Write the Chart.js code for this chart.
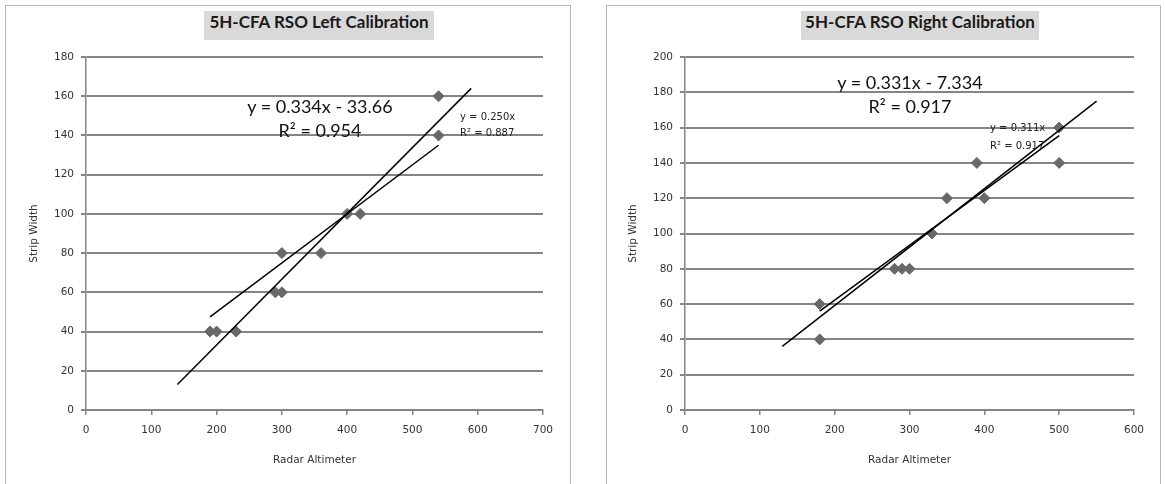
<!DOCTYPE html>
<html>
<head>
<meta charset="utf-8">
<script src="https://cdn.jsdelivr.net/npm/chart.js@4.4.1/dist/chart.umd.min.js"></script>
<style>
  body { margin: 0; background: #fff; }
  #wrap { position: relative; width: 1165px; height: 484px; overflow: hidden; }
  .panel { position: absolute; top: 5px; height: 520px; border: 1.5px solid #b8b8b8; box-sizing: border-box; }
  canvas { position: absolute; top: 0; }
  .ttl { position: absolute; top: 11px; height: 29px; line-height: 29px; background: #d9d9d9;
         font: bold 17px Lato, sans-serif; color: #1a1a1a; text-align: center; }
  .eq { position: absolute; transform: translateX(-50%); white-space: nowrap;
        font: 18px Lato, sans-serif; color: #111; height: 22px; line-height: 22px; }
  .eqs { position: absolute; white-space: nowrap; font: 10px "DejaVu Sans", sans-serif; color: #222;
         height: 14px; line-height: 14px; }
</style>
</head>
<body>
<div id="wrap">
  <div class="panel" style="left:5px; width:566px;"></div>
  <div class="panel" style="left:606px; width:555px;"></div>
  <canvas id="cLeft" width="580" height="484" style="left:0; width:580px; height:484px;"></canvas>
  <canvas id="cRight" width="575" height="484" style="left:590px; width:575px; height:484px;"></canvas>

  <div class="ttl" style="left:204px; width:230px;">5H-CFA RSO Left Calibration</div>
  <div class="ttl" style="left:801px; width:238px;">5H-CFA RSO Right Calibration</div>

  <div class="eq" style="left:320px; top:95px;">y = 0.334x - 33.66</div>
  <div class="eq" style="left:320px; top:119px;">R² = 0.954</div>
  <div class="eqs" style="left:460px; top:110px;">y = 0.250x</div>
  <div class="eqs" style="left:460px; top:126px;">R² = 0.887</div>

  <div class="eq" style="left:910px; top:71px;">y = 0.331x - 7.334</div>
  <div class="eq" style="left:910px; top:95px;">R² = 0.917</div>
  <div class="eqs" style="left:990px; top:121px;">y = 0.311x</div>
  <div class="eqs" style="left:990px; top:139px;">R² = 0.917</div>
</div>
<script>
// left calibration points
const leftAlt   = [190, 200, 230, 290, 300, 300, 360, 400, 420, 540, 540];
const leftStrip = [40, 40, 40, 60, 60, 80, 80, 100, 100, 160, 140];
// trend lines (end points)
const leftFitX  = [140, 590];
const leftFitY  = [13, 164];
const leftZeroX = [190, 540];
const leftZeroY = [47.5, 135];

// right calibration points
const rightAlt   = [180, 180, 280, 290, 300, 330, 350, 390, 400, 500, 500];
const rightStrip = [60, 40, 80, 80, 80, 100, 120, 140, 120, 160, 140];
const rightFitX  = [130, 550];
const rightFitY  = [36, 175];
const rightZeroX = [180, 500];
const rightZeroY = [56, 155.5];

const leftXMax = 700, leftYMax = 180;
const rightXMax = 600, rightYMax = 200;

const GRID = '#858585';
const TXT = '#333';

function pts(xs, ys) {
    return xs.map((x, i) => ({ x: x, y: ys[i] }));
}

function makeChart(id, p) {
    const ctx = document.getElementById(id).getContext('2d');
    return new Chart(ctx, {
        type: 'scatter',
        data: {
            datasets: [
                {
                    data: pts(p.fitX, p.fitY), showLine: true, pointRadius: 0,
                    borderColor: '#000', borderWidth: 1.5
                },
                {
                    data: pts(p.zeroX, p.zeroY), showLine: true, pointRadius: 0,
                    borderColor: '#000', borderWidth: 1.5
                },
                {
                    data: pts(p.x, p.y), pointStyle: 'rectRot', pointRadius: 5.5,
                    backgroundColor: '#686868', borderColor: '#686868', borderWidth: 1
                }
            ]
        },
        options: {
            responsive: false,
            animation: false,
            events: [],
            layout: { padding: { top: 57, right: p.padRight, bottom: 13, left: p.padLeft } },
            plugins: { legend: { display: false }, tooltip: { enabled: false } },
            scales: {
                x: {
                    type: 'linear', min: 0, max: p.xMax,
                    ticks: { stepSize: 100, padding: 9, color: TXT, font: { family: 'DejaVu Sans', size: 10.5 } },
                    grid: { drawOnChartArea: false, tickLength: 5, color: GRID, lineWidth: 1.5 },
                    border: { color: GRID, width: 1.5 },
                    title: { display: true, text: 'Radar Altimeter', color: TXT, padding: 4,
                             font: { family: 'DejaVu Sans', size: 10.5 } },
                    afterFit: s => { s.height = 61; }
                },
                y: {
                    type: 'linear', min: 0, max: p.yMax,
                    ticks: { stepSize: 20, padding: 7, color: TXT, font: { family: 'DejaVu Sans', size: 10.5 } },
                    grid: { tickLength: 5, color: GRID, lineWidth: 2 },
                    border: { color: GRID, width: 1.5 },
                    title: { display: true, text: 'Strip Width', color: TXT, padding: 4,
                             font: { family: 'DejaVu Sans', size: 10.5 } },
                    afterFit: s => { s.width = p.yWidth; }
                }
            }
        }
    });
}

makeChart('cLeft', {
    x: leftAlt, y: leftStrip, fitX: leftFitX, fitY: leftFitY, zeroX: leftZeroX, zeroY: leftZeroY,
    xMax: leftXMax, yMax: leftYMax, padLeft: 24, padRight: 37, yWidth: 62
});
makeChart('cRight', {
    x: rightAlt, y: rightStrip, fitX: rightFitX, fitY: rightFitY, zeroX: rightZeroX, zeroY: rightZeroY,
    xMax: rightXMax, yMax: rightYMax, padLeft: 33, padRight: 31, yWidth: 62
});
</script>
</body>
</html>
